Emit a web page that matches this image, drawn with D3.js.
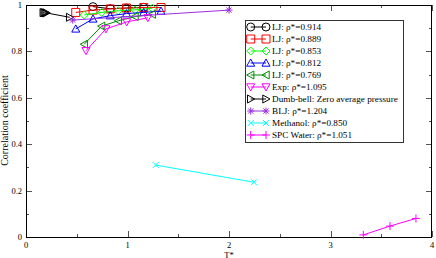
<!DOCTYPE html>
<html><head><meta charset="utf-8">
<script src="https://cdn.jsdelivr.net/npm/d3@7"></script>
<style>body{margin:0;background:#fff}svg{display:block}text{font-family:"Liberation Serif","Times New Roman",serif}</style>
</head><body>
<svg id="c" width="436" height="258"></svg>
<script>
// ---- data ----
const ljA_T = [0.66, 0.83, 0.99, 1.16];
const ljA_C = [0.993, 0.984, 0.987, 0.990];
const ljB_T = [0.49, 0.66, 0.83, 0.99, 1.16, 1.33];
const ljB_C = [0.968, 0.978, 0.983, 0.987, 0.989, 0.989];
const ljC_T = [0.574, 0.746, 0.909, 1.074, 1.244];
const ljC_C = [0.957, 0.968, 0.975, 0.979, 0.986];
const ljD_T = [0.49, 0.66, 0.83, 0.99, 1.16, 1.33];
const ljD_C = [0.897, 0.940, 0.954, 0.963, 0.968, 0.974];
const ljE_T = [0.574, 0.745, 0.91, 1.074, 1.244];
const ljE_C = [0.831, 0.909, 0.932, 0.950, 0.960];
const exp_T = [0.591, 0.788, 0.992, 1.2];
const exp_C = [0.803, 0.897, 0.927, 0.945];
const db_T = [0.17, 0.18, 0.19, 0.20, 0.43];
const db_C = [0.967, 0.967, 0.966, 0.966, 0.947];
const blj_T = [0.46, 2.0];
const blj_C = [0.935, 0.978];
const meth_T = [1.278, 2.246];
const meth_C = [0.310, 0.236];
const spc_T = [3.323, 3.586, 3.842];
const spc_C = [0.009, 0.047, 0.080];

const seriesNames = ["LJ: \u03c1*=0.914","LJ: \u03c1*=0.889","LJ: \u03c1*=0.853","LJ: \u03c1*=0.812","LJ: \u03c1*=0.769","Exp: \u03c1*=1.095","Dumb-bell: Zero average pressure","BLJ:  \u03c1*=1.204","Methanol:  \u03c1*=0.850","SPC Water: \u03c1*=1.051"];
const xTicks = [0,1,2,3,4];
const yTicks = [0,0.2,0.4,0.6,0.8,1];

const series = [
  {T:ljA_T,C:ljA_C,color:"#000000",sym:"circle"},
  {T:ljB_T,C:ljB_C,color:"#ff0000",sym:"square"},
  {T:ljC_T,C:ljC_C,color:"#00ff00",sym:"diamond"},
  {T:ljD_T,C:ljD_C,color:"#0000ff",sym:"tup"},
  {T:ljE_T,C:ljE_C,color:"#008b00",sym:"tleft"},
  {T:exp_T,C:exp_C,color:"#ff00ff",sym:"tdown"},
  {T:db_T,C:db_C,color:"#000000",sym:"tright"},
  {T:blj_T,C:blj_C,color:"#9b30e0",sym:"star"},
  {T:meth_T,C:meth_C,color:"#00ffff",sym:"x"},
  {T:spc_T,C:spc_C,color:"#ff00ff",sym:"plus"}
];

const svg = d3.select("#c");
const L=26,R=432,T0=5,B=237;
const x = d3.scaleLinear().domain([0,4]).range([L,R]);
const y = d3.scaleLinear().domain([0,1]).range([B,T0]);

function symPath(s, cx, cy){
  const r=4;
  switch(s){
    case "circle": return `M${cx+r},${cy}A${r},${r} 0 1,1 ${cx-r},${cy}A${r},${r} 0 1,1 ${cx+r},${cy}Z`;
    case "square": return `M${cx-r},${cy-r}h${2*r}v${2*r}h${-2*r}Z`;
    case "diamond": return `M${cx},${cy-r}L${cx+r},${cy}L${cx},${cy+r}L${cx-r},${cy}Z`;
    case "tup": return `M${cx},${cy-r}L${cx+r},${cy+r*0.8}L${cx-r},${cy+r*0.8}Z`;
    case "tdown": return `M${cx},${cy+r}L${cx+r},${cy-r*0.8}L${cx-r},${cy-r*0.8}Z`;
    case "tleft": return `M${cx-r},${cy}L${cx+r*0.8},${cy-r}L${cx+r*0.8},${cy+r}Z`;
    case "tright": return `M${cx+r},${cy}L${cx-r*0.8},${cy-r}L${cx-r*0.8},${cy+r}Z`;
    case "x": return `M${cx-3},${cy-3}L${cx+3},${cy+3}M${cx-3},${cy+3}L${cx+3},${cy-3}`;
    case "plus": return `M${cx-4},${cy}L${cx+4},${cy}M${cx},${cy-4}L${cx},${cy+4}`;
    case "star": return `M${cx-3.5},${cy}L${cx+3.5},${cy}M${cx},${cy-3.5}L${cx},${cy+3.5}M${cx-2.6},${cy-2.6}L${cx+2.6},${cy+2.6}M${cx-2.6},${cy+2.6}L${cx+2.6},${cy-2.6}`;
  }
}

// ticks
const tg = svg.append("g").attr("stroke","#555").attr("stroke-width",1);
d3.range(0,4.01,0.5).forEach(v=>{
  const len = (Math.abs(v-Math.round(v))<1e-6)?6:3;
  const px = Math.round(x(v))+0.5;
  tg.append("line").attr("x1",px).attr("x2",px).attr("y1",B).attr("y2",B-len);
  tg.append("line").attr("x1",px).attr("x2",px).attr("y1",T0).attr("y2",T0+len);
});
d3.range(0,1.001,0.1).forEach((v,i)=>{
  const len = (i%2===0)?6:3;
  const py = Math.round(y(v))+0.5;
  tg.append("line").attr("x1",L).attr("x2",L+len).attr("y1",py).attr("y2",py);
  tg.append("line").attr("x1",R).attr("x2",R-len).attr("y1",py).attr("y2",py);
});

// frame
svg.append("rect").attr("x",L+0.5).attr("y",T0+0.5).attr("width",R-L-1).attr("height",B-T0)
  .attr("fill","none").attr("stroke","#000").attr("stroke-width",1);

// tick labels
svg.append("g").selectAll("text").data(xTicks).join("text")
  .attr("x",d=>x(d)).attr("y",B+10.5).attr("text-anchor","middle").attr("font-size",8.5).text(d=>d);
svg.append("g").selectAll("text").data(yTicks).join("text")
  .attr("x",L-4).attr("y",d=>y(d)+3).attr("text-anchor","end").attr("font-size",8.5).text(d=>d);

// axis titles
svg.append("text").attr("x",x(2)).attr("y",257.5).attr("text-anchor","middle").attr("font-size",8.5).text("T*");
svg.append("text").attr("transform",`translate(8,120.5) rotate(-90)`).attr("text-anchor","middle").attr("font-size",10).text("Correlation coefficient");

// series
const line = d3.line().x(d=>x(d[0])).y(d=>y(d[1]));
series.forEach(s=>{
  const pts = s.T.map((t,i)=>[t,s.C[i]]);
  svg.append("path").attr("d",line(pts)).attr("fill","none").attr("stroke",s.color).attr("stroke-width",1);
  svg.append("g").selectAll("path").data(pts).join("path")
    .attr("d",d=>symPath(s.sym,x(d[0]),y(d[1])))
    .attr("fill","none").attr("stroke",s.color).attr("stroke-width",1);
});

// legend
const lg = svg.append("g");
lg.append("rect").attr("x",245.5).attr("y",20.5).attr("width",158).attr("height",122)
  .attr("fill","#fff").attr("stroke","#333").attr("stroke-width",1);
series.forEach((s,i)=>{
  const cy = 27 + i*12;
  lg.append("line").attr("x1",250.7).attr("x2",266).attr("y1",cy).attr("y2",cy).attr("stroke",s.color);
  [250.7,266].forEach(cx=>lg.append("path").attr("d",symPath(s.sym,cx,cy)).attr("fill","none").attr("stroke",s.color));
  lg.append("text").attr("x",272).attr("y",cy+3).attr("font-size",9.2).text(seriesNames[i]);
});
</script>
</body></html>
